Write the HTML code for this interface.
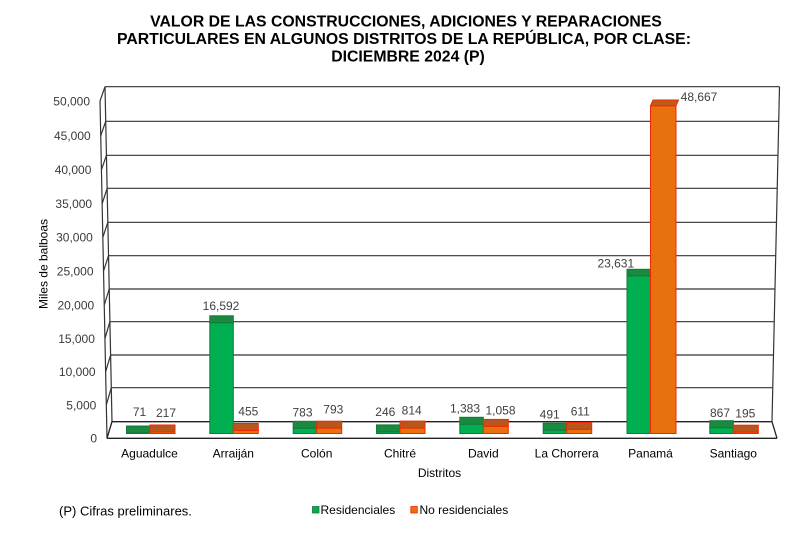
<!DOCTYPE html>
<html>
<head>
<meta charset="utf-8">
<style>
  html,body{margin:0;padding:0;background:#fff;}
  svg{display:block;}
  text{font-family:"Liberation Sans",Arial,sans-serif;}
</style>
</head>
<body>
<svg width="807" height="535" viewBox="0 0 807 535" xmlns="http://www.w3.org/2000/svg">
  <rect x="0" y="0" width="807" height="535" fill="#ffffff"/>

  <!-- Title -->
  <g font-weight="bold" font-size="15.8" fill="#000" text-anchor="middle">
    <text x="406" y="26.5">VALOR DE LAS CONSTRUCCIONES, ADICIONES Y REPARACIONES</text>
    <text x="404" y="44">PARTICULARES EN ALGUNOS DISTRITOS DE LA REPÚBLICA, POR CLASE:</text>
    <text x="408" y="61.5">DICIEMBRE 2024 (P)</text>
  </g>

  <!-- Walls -->
  <polygon points="105,86.7 779.5,86.7 772,421.7 112,421.7" fill="#fff"/>
  <g stroke="#333" stroke-width="1.2" fill="none">
    <line x1="112" y1="421.7" x2="772" y2="421.7"/>
    <line x1="111.29" y1="387.7" x2="772.76" y2="387.7"/>
    <line x1="110.61" y1="355" x2="773.49" y2="355"/>
    <line x1="109.91" y1="321.7" x2="774.24" y2="321.7"/>
    <line x1="109.23" y1="289" x2="774.97" y2="289"/>
    <line x1="108.53" y1="255.7" x2="775.72" y2="255.7"/>
    <line x1="107.83" y1="222.3" x2="776.46" y2="222.3"/>
    <line x1="107.12" y1="188.3" x2="777.23" y2="188.3"/>
    <line x1="106.43" y1="155.3" x2="777.96" y2="155.3"/>
    <line x1="105.72" y1="121.3" x2="778.72" y2="121.3"/>
    <line x1="105" y1="86.7" x2="779.5" y2="86.7"/>
    <line x1="105" y1="86.7" x2="112" y2="421.7"/>
    <line x1="779.5" y1="86.7" x2="772" y2="421.7"/>
    <line x1="112" y1="421.7" x2="107" y2="438.3"/>
    <line x1="111.29" y1="387.7" x2="106.31" y2="405"/>
    <line x1="110.61" y1="355" x2="105.62" y2="371.8"/>
    <line x1="109.91" y1="321.7" x2="104.93" y2="338.6"/>
    <line x1="109.23" y1="289" x2="104.23" y2="305"/>
    <line x1="108.53" y1="255.7" x2="103.53" y2="271"/>
    <line x1="107.83" y1="222.3" x2="102.83" y2="237.3"/>
    <line x1="107.12" y1="188.3" x2="102.13" y2="203.8"/>
    <line x1="106.43" y1="155.3" x2="101.43" y2="169.8"/>
    <line x1="105.72" y1="121.3" x2="100.72" y2="135.8"/>
    <line x1="105" y1="86.7" x2="100" y2="101"/>
    <line x1="100" y1="101" x2="107" y2="438.3"/>
  </g>

  <!-- Floor -->
  <polygon points="112,421.7 772,421.7 777,438.3 107,438.3" fill="#fff" stroke="none"/>
  <g stroke="#222" stroke-width="1.3" fill="none">
    <line x1="112" y1="421.7" x2="772" y2="421.7"/>
    <line x1="107" y1="438.3" x2="777" y2="438.3"/>
    <line x1="772" y1="421.7" x2="777" y2="438.3"/>
    <line x1="112" y1="421.7" x2="107" y2="438.3"/>
  </g>

  <!-- Y tick labels -->
  <g font-size="12" fill="#3a3a3a" text-anchor="end">
    <text x="97" y="442.6">0</text>
    <text x="96.3" y="409.3">5,000</text>
    <text x="95.6" y="376.1">10,000</text>
    <text x="94.9" y="342.9">15,000</text>
    <text x="94.2" y="309.3">20,000</text>
    <text x="93.5" y="275.3">25,000</text>
    <text x="92.8" y="241.6">30,000</text>
    <text x="92.1" y="208.1">35,000</text>
    <text x="91.4" y="174.1">40,000</text>
    <text x="90.7" y="140.1">45,000</text>
    <text x="90" y="105.3">50,000</text>
  </g>

  <!-- Y axis title -->
  <text x="0" y="0" font-size="12" fill="#000" text-anchor="middle" transform="translate(47.5,264) rotate(-90)">Miles de balboas</text>

  <!-- Bars -->
  <g stroke-width="1">
    <rect x="126.5" y="426" width="23.5" height="7" fill="#1a8a40" stroke="#17763a"/>
    <rect x="126.5" y="433" width="23.5" height="0.5" fill="#00b050" stroke="#17763a"/>
    <rect x="150" y="425" width="25" height="7" fill="#b8561e" stroke="#f02a00"/>
    <rect x="150" y="432" width="25" height="1.5" fill="#e8700f" stroke="#f02a00"/>

    <rect x="209.8" y="322.7" width="23.5" height="110.8" fill="#00b050" stroke="#17763a"/>
    <rect x="209.8" y="315.8" width="23.5" height="6.9" fill="#1a8a40" stroke="#17763a"/>
    <rect x="233.3" y="423.5" width="25" height="7" fill="#b8561e" stroke="#f02a00"/>
    <rect x="233.3" y="430.5" width="25" height="3" fill="#e8700f" stroke="#f02a00"/>

    <rect x="293.2" y="421.3" width="23.5" height="7" fill="#1a8a40" stroke="#17763a"/>
    <rect x="293.2" y="428.3" width="23.5" height="5.2" fill="#00b050" stroke="#17763a"/>
    <rect x="316.7" y="421.2" width="25" height="7" fill="#b8561e" stroke="#f02a00"/>
    <rect x="316.7" y="428.2" width="25" height="5.3" fill="#e8700f" stroke="#f02a00"/>

    <rect x="376.5" y="424.9" width="23.5" height="7" fill="#1a8a40" stroke="#17763a"/>
    <rect x="376.5" y="431.9" width="23.5" height="1.6" fill="#00b050" stroke="#17763a"/>
    <rect x="400" y="421.1" width="25" height="7" fill="#b8561e" stroke="#f02a00"/>
    <rect x="400" y="428.1" width="25" height="5.4" fill="#e8700f" stroke="#f02a00"/>

    <rect x="459.8" y="417.3" width="23.5" height="7" fill="#1a8a40" stroke="#17763a"/>
    <rect x="459.8" y="424.3" width="23.5" height="9.2" fill="#00b050" stroke="#17763a"/>
    <rect x="483.3" y="419.4" width="25" height="7" fill="#b8561e" stroke="#f02a00"/>
    <rect x="483.3" y="426.4" width="25" height="7.1" fill="#e8700f" stroke="#f02a00"/>

    <rect x="543.2" y="423.2" width="23.5" height="7" fill="#1a8a40" stroke="#17763a"/>
    <rect x="543.2" y="430.2" width="23.5" height="3.3" fill="#00b050" stroke="#17763a"/>
    <rect x="566.7" y="422.4" width="25" height="7" fill="#b8561e" stroke="#f02a00"/>
    <rect x="566.7" y="429.4" width="25" height="4.1" fill="#e8700f" stroke="#f02a00"/>

    <rect x="627" y="275.8" width="23.5" height="157.7" fill="#00b050" stroke="#17763a"/>
    <rect x="627" y="269.3" width="23.5" height="6.5" fill="#1a8a40" stroke="#17763a"/>
    <rect x="650.5" y="105.8" width="25.5" height="327.7" fill="#e8700f" stroke="#f02a00"/>
    <polygon points="650.5,105.8 676,105.8 678.5,100 653,100" fill="#c05a1a" stroke="#f02a00"/>

    <rect x="709.8" y="420.7" width="23.5" height="7" fill="#1a8a40" stroke="#17763a"/>
    <rect x="709.8" y="427.7" width="23.5" height="5.8" fill="#00b050" stroke="#17763a"/>
    <rect x="733.3" y="425.2" width="25" height="7" fill="#b8561e" stroke="#f02a00"/>
    <rect x="733.3" y="432.2" width="25" height="1.3" fill="#e8700f" stroke="#f02a00"/>
  </g>

  <!-- Data labels -->
  <g font-size="12" fill="#404040" text-anchor="middle">
    <text x="139.5" y="416">71</text>
    <text x="166" y="417">217</text>
    <text x="221" y="310">16,592</text>
    <text x="248.3" y="415.3">455</text>
    <text x="302.5" y="416.6">783</text>
    <text x="333.3" y="413.3">793</text>
    <text x="385.3" y="416">246</text>
    <text x="411.7" y="414.3">814</text>
    <text x="465" y="412.6">1,383</text>
    <text x="500.5" y="414.3">1,058</text>
    <text x="549.7" y="418.6">491</text>
    <text x="580.3" y="415.3">611</text>
    <text x="615.8" y="267.6">23,631</text>
    <text x="699" y="101">48,667</text>
    <text x="720" y="417">867</text>
    <text x="745.3" y="417.6">195</text>
  </g>

  <!-- Category labels -->
  <g font-size="12" fill="#000" text-anchor="middle">
    <text x="149.5" y="457.5">Aguadulce</text>
    <text x="233.3" y="457.5">Arraiján</text>
    <text x="316.7" y="457.5">Colón</text>
    <text x="400" y="457.5">Chitré</text>
    <text x="483.3" y="457.5">David</text>
    <text x="566.7" y="457.5">La Chorrera</text>
    <text x="650.5" y="457.5">Panamá</text>
    <text x="733.3" y="457.5">Santiago</text>
  </g>

  <text x="439.5" y="477.2" font-size="12" fill="#000" text-anchor="middle">Distritos</text>

  <text x="59" y="515.5" font-size="13" fill="#000">(P) Cifras preliminares.</text>

  <!-- Legend -->
  <rect x="312.5" y="506.5" width="6.5" height="6.5" fill="#00b050" stroke="#17763a" stroke-width="0.8"/>
  <text x="320.5" y="514" font-size="12" fill="#000">Residenciales</text>
  <rect x="410.8" y="506.5" width="6.5" height="6.5" fill="#e8700f" stroke="#f02a00" stroke-width="0.8"/>
  <text x="419.5" y="514" font-size="12" fill="#000">No residenciales</text>
</svg>
</body>
</html>
